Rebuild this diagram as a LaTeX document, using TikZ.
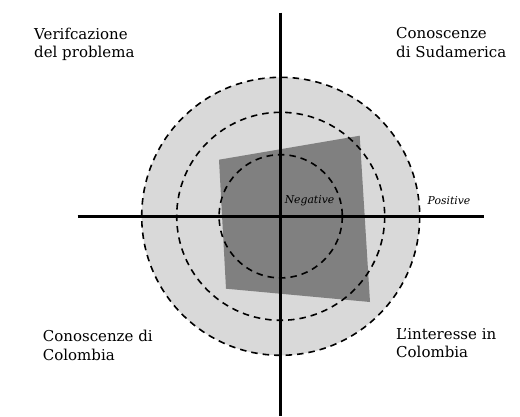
\documentclass[tikz,border=0pt]{standalone}
\usepackage{fontspec}
\setmainfont{DejaVu Serif}
\definecolor{lightfill}{HTML}{D9D9D9}
\definecolor{darkfill}{HTML}{808080}
\tikzset{
  ring/.style={draw=black, line width=1.6pt, dash pattern=on 6.5pt off 5pt},
  axis/.style={draw=black, line width=3pt},
  quadlabel/.style={align=left, anchor=base west, font=\fontsize{15}{18.3}\selectfont, inner sep=0pt},
  signlabel/.style={font=\itshape\fontsize{10.8}{12}\selectfont, inner sep=0pt}
}
\begin{document}
\begin{tikzpicture}[x=1pt, y=-1pt]
\useasboundingbox (0,0) rectangle (520,416);
\coordinate (c) at (280.7,216.3);
\fill[lightfill] (c) circle (139);
\fill[darkfill] (219,159.7) -- (359.7,135.7) -- (370,302) -- (226,288.7) -- cycle;
\draw[ring] (c) circle (139);
\draw[ring] (c) circle (104);
\draw[ring] (c) circle (61.6);
\coordinate (top) at (280.7,12.7);
\coordinate (bottom) at (280.7,416);
\coordinate (left) at (77.7,216.3);
\coordinate (right) at (484,216.3);
\draw[axis] (top) -- (bottom);
\draw[axis] (left) -- (right);
\node[quadlabel] (tl) at (34,57.3) {Verifcazione\\del problema};
\node[quadlabel] (tr) at (396,57) {Conoscenze\\di Sudamerica};
\node[quadlabel] (bl) at (42.7,360) {Conoscenze di\\Colombia};
\node[quadlabel] (br) at (396,357.3) {L'interesse in\\Colombia};
\node[signlabel] (neg) at (309.5,201) {Negative};
\node[signlabel] (pos) at (449,201) {Positive};
\end{tikzpicture}
\end{document}
